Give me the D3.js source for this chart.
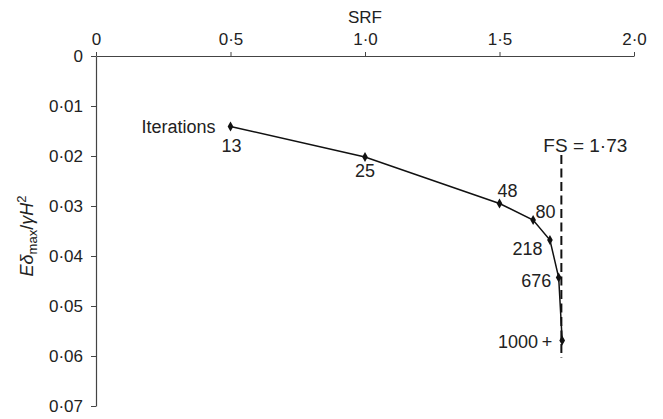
<!DOCTYPE html>
<html>
<head>
<meta charset="utf-8">
<script src="https://cdn.jsdelivr.net/npm/d3@7"></script>
<style>
  html, body { margin: 0; padding: 0; background: #fff; }
  svg { display: block; font-family: "Liberation Sans", Arial, Helvetica, sans-serif; }
</style>
</head>
<body>
<svg id="chart" width="663" height="419"></svg>
<script>
// Strength reduction factor vs normalised maximum displacement
const srf = [0.5, 1.0, 1.5, 1.625, 1.6875, 1.72, 1.733];
const disp = [0.0141, 0.0202, 0.0295, 0.0328, 0.0368, 0.0443, 0.0569];
const iterLabels = ["13", "25", "48", "80", "218", "676", "1000+"];
const xTicks = [0, 0.5, 1.0, 1.5, 2.0];
const yTicks = [0, 0.01, 0.02, 0.03, 0.04, 0.05, 0.06, 0.07];
const factorOfSafety = 1.73;

const svg = d3.select("#chart");
const x = d3.scaleLinear().domain([0, 2]).range([96, 634]);
const y = d3.scaleLinear().domain([0, 0.07]).range([56, 406]);

const dot = s => s.replace(".", "\u00B7");
const fmtX = d => d === 0 ? "0" : dot(d3.format(".1f")(d));
const fmtY = d => d === 0 ? "0" : dot(d3.format(".2f")(d));

const axisColor = "#444";
const textColor = "#222";
const font = "'Liberation Sans', Arial, sans-serif";

// Top SRF axis
const gx = svg.append("g")
  .attr("transform", `translate(0,${y(0)})`)
  .call(d3.axisTop(x).tickValues(xTicks).tickFormat(fmtX).tickSize(4).tickSizeOuter(0).tickPadding(7));
// Left displacement axis
const gy = svg.append("g")
  .attr("transform", `translate(${x(0)},0)`)
  .call(d3.axisLeft(y).tickValues(yTicks).tickFormat(fmtY).tickSize(5).tickSizeOuter(0).tickPadding(8));

[gx, gy].forEach(g => {
  g.attr("font-size", 17).attr("font-family", font);
  g.select(".domain").attr("stroke", axisColor).attr("stroke-width", 1.2);
  g.selectAll(".tick line").attr("stroke", axisColor).attr("stroke-width", 1);
  g.selectAll(".tick text").attr("fill", textColor);
});
// x tick labels sit on the baseline above the ticks
gx.selectAll(".tick text").attr("dy", 0);

// Axis titles
svg.append("text")
  .attr("x", x(1)).attr("y", 23)
  .attr("text-anchor", "middle")
  .attr("font-size", 17).attr("fill", textColor)
  .text("SRF");

const yTitle = svg.append("text")
  .attr("transform", "translate(33,236) rotate(-90)")
  .attr("text-anchor", "middle")
  .attr("font-size", 18).attr("fill", textColor);
yTitle.append("tspan").attr("font-style", "italic").text("E\u03B4");
yTitle.append("tspan").attr("font-size", 13).attr("dy", 4).text("max");
yTitle.append("tspan").attr("dy", -4).text("/");
yTitle.append("tspan").attr("font-style", "italic").text("\u03B3H");
yTitle.append("tspan").attr("font-size", 13).attr("dy", -7).text("2");

// Factor of safety line
svg.append("line")
  .attr("x1", x(factorOfSafety)).attr("x2", x(factorOfSafety))
  .attr("y1", 155).attr("y2", 358)
  .attr("stroke", "#111").attr("stroke-width", 2)
  .attr("stroke-dasharray", "9,4.5");
svg.append("text")
  .attr("x", x(factorOfSafety) - 18).attr("y", 152)
  .attr("font-size", 19).attr("fill", textColor)
  .text("FS = " + dot(String(factorOfSafety)));

// Displacement curve
const pts = srf.map((s, i) => ({ s, d: disp[i], lab: iterLabels[i] }));
svg.append("path")
  .datum(pts)
  .attr("fill", "none").attr("stroke", "#111").attr("stroke-width", 1.5)
  .attr("d", d3.line().x(p => x(p.s)).y(p => y(p.d)));

svg.selectAll(".pt")
  .data(pts).enter().append("path")
  .attr("class", "pt")
  .attr("transform", p => `translate(${x(p.s)},${y(p.d)})`)
  .attr("d", d3.symbol().type(d3.symbolDiamond).size(28))
  .attr("fill", "#111");

// Iteration count labels, offset from each point
const offsets = [
  { dx: 1, dy: 25, anchor: "middle" },
  { dx: 0, dy: 19.5, anchor: "middle" },
  { dx: 8, dy: -7, anchor: "middle" },
  { dx: 12.5, dy: -2.5, anchor: "middle" },
  { dx: -7.5, dy: 14.5, anchor: "end" },
  { dx: -7.5, dy: 9, anchor: "end" },
  { dx: -10, dy: 7, anchor: "end" }
];
svg.selectAll(".lab")
  .data(pts).enter().append("text")
  .attr("class", "lab")
  .attr("x", (p, i) => x(p.s) + offsets[i].dx)
  .attr("y", (p, i) => y(p.d) + offsets[i].dy)
  .attr("text-anchor", (p, i) => offsets[i].anchor)
  .attr("font-size", 18).attr("fill", textColor)
  .text(p => p.lab.replace("+", "\u2009+"));

svg.append("text")
  .attr("x", x(srf[0]) - 15).attr("y", y(disp[0]) + 6)
  .attr("text-anchor", "end")
  .attr("font-size", 18).attr("fill", textColor)
  .text("Iterations");
</script>
</body>
</html>
